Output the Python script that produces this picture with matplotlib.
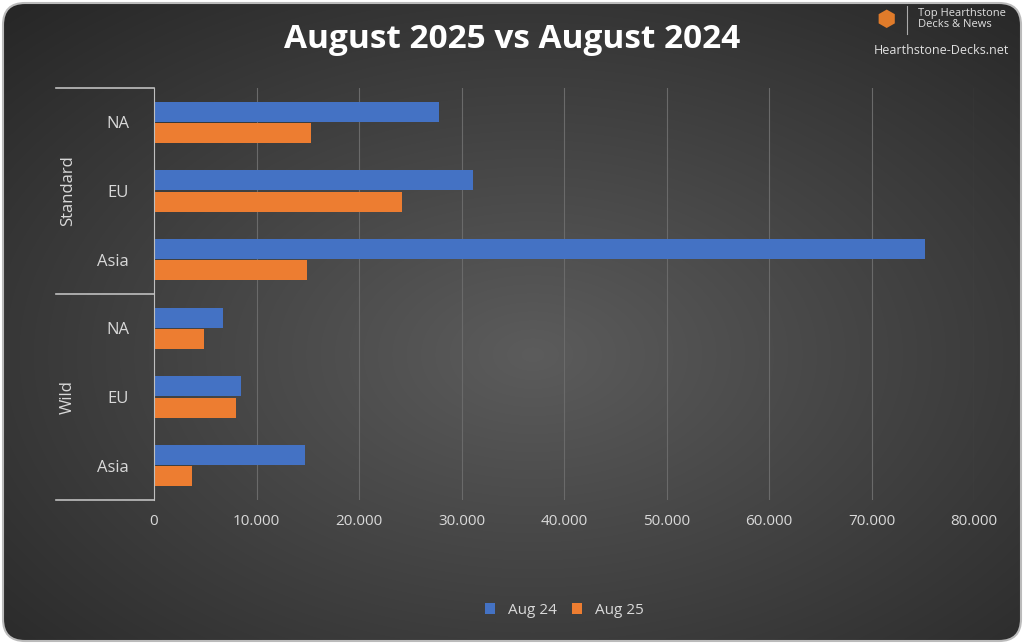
import numpy as np
import matplotlib.pyplot as plt
from matplotlib.patches import FancyBboxPatch

plt.rcParams['font.family'] = ['Open Sans', 'DejaVu Sans']

groups = ["Standard", "Wild"]
regions = ["NA", "EU", "Asia", "NA", "EU", "Asia"]
aug24 = [27800, 31100, 75200, 6700, 8500, 14700]
aug25 = [15300, 24200, 14900, 4900, 8000, 3700]
xticks = [0, 10000, 20000, 30000, 40000, 50000, 60000, 70000, 80000]

W, H = 1024, 644
fig = plt.figure(figsize=(W / 100, H / 100), dpi=100)
fig.patch.set_facecolor("white")

# radial gradient background
bg = fig.add_axes([0, 0, 1, 1])
yy, xx = np.mgrid[0:H, 0:W]
r = np.sqrt(((xx - W * 0.52) / W) ** 2 + ((yy - H * 0.55) / H) ** 2)
shade = np.clip(0.36 - 0.28 * r, 0.15, 0.36)
img = np.dstack([shade] * 3)
im = bg.imshow(img, extent=[0, W, H, 0], aspect="auto")
clip = FancyBboxPatch((3, 3), W - 6, H - 6, boxstyle="round,pad=0,rounding_size=22",
                      transform=bg.transData, facecolor="none", edgecolor="#bbbbbb", lw=1.5)
bg.add_patch(clip)
im.set_clip_path(clip)
bg.set_xlim(0, W)
bg.set_ylim(H, 0)
bg.axis("off")

ax = fig.add_axes([154 / W, 1 - 500 / H, (974 - 154) / W, (500 - 88) / H])
ax.set_facecolor("none")
y = np.arange(len(regions))
h = 0.29
ax.barh(y - h / 2 - 0.01, aug24, height=h, color="#4472c4", label="Aug 24")
ax.barh(y + h / 2 + 0.01, aug25, height=h, color="#ed7d31", label="Aug 25")
ax.set_ylim(len(regions) - 0.5, -0.5)
ax.set_xlim(0, 80000)
ax.set_xticks(xticks)
ax.set_xticklabels([f"{v:,}".replace(",", ".") for v in xticks], color="#d9d9d9", fontsize=11)
ax.grid(axis="x", color="#6a6a6a", lw=0.8)
ax.set_axisbelow(True)
ax.tick_params(length=0, pad=10)
for s in ["top", "right", "bottom"]:
    ax.spines[s].set_visible(False)
ax.spines["left"].set_color("#bfbfbf")
ax.set_yticks(y)
ax.set_yticklabels(regions, color="#d9d9d9", fontsize=12)
ax.tick_params(axis="y", pad=18)

# group labels and separators
for i, g in enumerate(groups):
    ax.text(-0.105, 1 - (i + 0.5) / 2, g, transform=ax.transAxes, rotation=90,
            ha="center", va="center", color="#d9d9d9", fontsize=12)
for fy in [0, 0.5, 1]:
    ax.plot([-0.12, 0], [fy, fy], transform=ax.transAxes, color="#bfbfbf", lw=1.2, clip_on=False)

fig.text(0.5, 1 - 40 / H, "August 2025 vs August 2024", ha="center", va="center",
         color="white", fontsize=24, fontweight="bold")
fig.text(0.896, 1 - 19 / H, "Top Hearthstone\nDecks & News", ha="left", va="center",
         color="#e0e0e0", fontsize=8, linespacing=1.0)
fig.text(0.985, 1 - 50 / H, "Hearthstone-Decks.net", ha="right", va="center",
         color="#e0e0e0", fontsize=9)
fig.text(0.865, 1 - 20 / H, "⬢", ha="center", va="center", color="#e07b2a",
         fontsize=16, family="DejaVu Sans")
fig.add_artist(plt.Line2D([0.886, 0.886], [1 - 6 / H, 1 - 34 / H], color="#aaaaaa", lw=0.8))

ax.legend(loc="center", bbox_to_anchor=(0.5, (500 - 610) / (500 - 88)), ncol=2,
          frameon=False, labelcolor="#d9d9d9", fontsize=11, handlelength=0.7,
          handleheight=0.7, columnspacing=1.0)
fig.savefig("out.png", dpi=100)
